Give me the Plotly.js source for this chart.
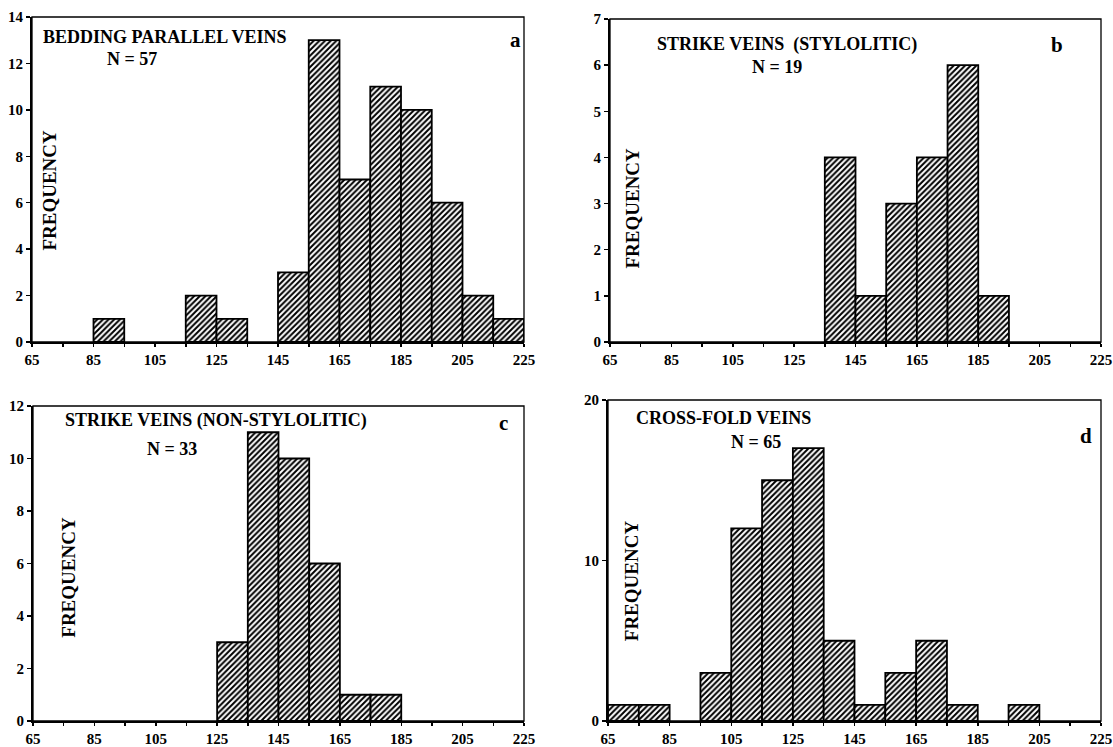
<!DOCTYPE html>
<html><head><meta charset="utf-8">
<script src="https://cdn.plot.ly/plotly-3.0.1.min.js"></script>
<style>body{margin:0;background:#fff}#g{width:1113px;height:747px}</style>
</head><body><div id="g"></div>
<script>
// Bin centres (degrees) and frequencies, bins are 10 wide
const binsA = [90,120,130,150,160,170,180,190,200,210,220];
const freqA = [1,2,1,3,13,7,11,10,6,2,1];
const binsB = [140,150,160,170,180,190];
const freqB = [4,1,3,4,6,1];
const binsC = [130,140,150,160,170,180];
const freqC = [3,11,10,6,1,1];
const binsD = [70,80,100,110,120,130,140,150,160,170,180,200];
const freqD = [1,1,3,12,15,17,5,1,3,5,1,1];
const titles = ["BEDDING PARALLEL VEINS","STRIKE VEINS  (STYLOLITIC)","STRIKE VEINS (NON-STYLOLITIC)","CROSS-FOLD VEINS"];
const nLabels = ["N = 57","N = 19","N = 33","N = 65"];
const letters = ["a","b","c","d"];
const xTickVals = [65,75,85,95,105,115,125,135,145,155,165,175,185,195,205,215,225];
const xTickText = ["65","","85","","105","","125","","145","","165","","185","","205","","225"];

const W=1113,H=747;
const panels = [
  {x:binsA,y:freqA,px:[32,524],py:[17,342],yr:[0,14],dt:2,
   tp:[0.018,0.938,'left'],np:[0.203,0.872],lp:[0.982,0.929],fp:[0.036,0.468]},
  {x:binsB,y:freqB,px:[610,1101],py:[19,342],yr:[0,7],dt:1,
   tp:[0.36,0.92,'center'],np:[0.34,0.85],lp:[0.91,0.92],fp:[0.046,0.415]},
  {x:binsC,y:freqC,px:[33,524],py:[406,721],yr:[0,12],dt:2,
   tp:[0.372,0.953,'center'],np:[0.284,0.8625],lp:[0.959,0.947],fp:[0.072,0.456]},
  {x:binsD,y:freqD,px:[608,1101],py:[400,721],yr:[0,20],dt:10,
   tp:[0.235,0.944,'center'],np:[0.3,0.869],lp:[0.97,0.887],fp:[0.048,0.4375]}
];
const font = {family:"Liberation Serif, Times New Roman, serif", color:"#000"};
const data=[], layout={width:W,height:H,margin:{l:0,r:0,t:0,b:0},showlegend:false,
  paper_bgcolor:"#fff",plot_bgcolor:"#fff",annotations:[],shapes:[],bargap:0};
panels.forEach((p,i)=>{
  const s = i===0?'':String(i+1);
  data.push({type:'bar',x:p.x,y:p.y,width:10,xaxis:'x'+s,yaxis:'y'+s,
    marker:{color:'#fff',line:{color:'#000',width:1.8},
      pattern:{shape:'/',fgcolor:'#000',bgcolor:'#fff',size:4,solidity:0.5}},hoverinfo:'skip'});
  const xd=[p.px[0]/W,p.px[1]/W], yd=[1-p.py[1]/H,1-p.py[0]/H];
  layout['xaxis'+s]={domain:xd,range:[65,225],anchor:'y'+s,tickmode:'array',tickvals:xTickVals,ticktext:xTickText,
    ticks:'outside',ticklen:3,tickwidth:1.5,tickcolor:'#000',showline:true,linecolor:'#000',linewidth:2,
    ticklabeloverflow:'allow',ticklabelstandoff:0,
    showgrid:false,zeroline:false,tickfont:Object.assign({size:15,weight:'bold'},font),fixedrange:true};
  layout['yaxis'+s]={domain:yd,range:p.yr,anchor:'x'+s,dtick:p.dt,tick0:0,
    ticks:'outside',ticklen:4,tickwidth:1.5,tickcolor:'#000',showline:true,linecolor:'#000',linewidth:2,
    ticklabeloverflow:'allow',ticklabelstandoff:0,
    showgrid:false,zeroline:false,tickfont:Object.assign({size:15,weight:'bold'},font),fixedrange:true};
  const xr='x'+s+' domain', yr='y'+s+' domain';
  layout.shapes.push({type:'rect',xref:xr,yref:yr,x0:0,x1:1,y0:0,y1:1,line:{color:'#000',width:1.3}});
  layout.annotations.push({xref:xr,yref:yr,x:p.tp[0],y:p.tp[1],xanchor:p.tp[2],yanchor:'middle',showarrow:false,
    text:'<b>'+titles[i]+'</b>',font:Object.assign({size:18},font)});
  layout.annotations.push({xref:xr,yref:yr,x:p.np[0],y:p.np[1],xanchor:'center',yanchor:'middle',showarrow:false,
    text:'<b>'+nLabels[i]+'</b>',font:Object.assign({size:18},font)});
  layout.annotations.push({xref:xr,yref:yr,x:p.lp[0],y:p.lp[1],xanchor:'center',yanchor:'middle',showarrow:false,
    text:'<b>'+letters[i]+'</b>',font:Object.assign({size:21},font)});
  layout.annotations.push({xref:xr,yref:yr,x:p.fp[0],y:p.fp[1],xanchor:'center',yanchor:'middle',showarrow:false,textangle:-90,
    text:'<b>FREQUENCY</b>',font:Object.assign({size:19},font)});
});
Plotly.newPlot('g',data,layout,{staticPlot:true});
</script></body></html>
